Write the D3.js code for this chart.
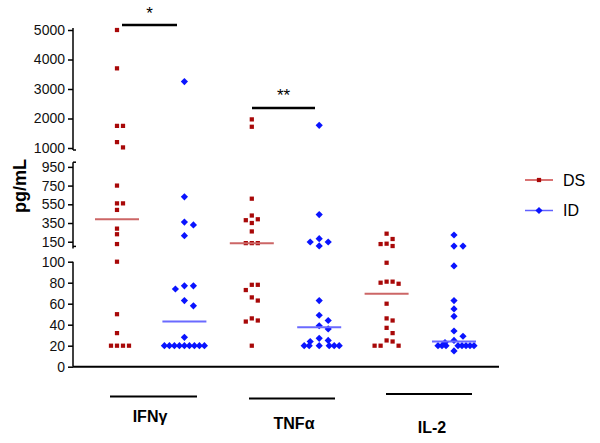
<!DOCTYPE html>
<html>
<head>
<meta charset="utf-8">
<script src="https://cdn.jsdelivr.net/npm/d3@7"></script>
<style>
  body { margin: 0; background: #fff; }
  text { font-family: "Liberation Sans", Arial, sans-serif; }
</style>
</head>
<body>
<script>
// data (pg/mL)
const categories = ["IFNγ", "TNFα", "IL-2"];
const groups = ["DS", "ID"];
const ifngDS = [5000, 3700, 1750, 1750, 1200, 1020, 750, 560, 560, 490, 290, 230, 125, 100, 50, 32, 20, 20, 20, 20];
const ifngID = [3250, 630, 360, 330, 215, 77, 77, 74, 63, 58, 28, 20, 20, 20, 20, 20, 20, 20, 20, 20];
const tnfaDS = [1970, 1720, 610, 430, 390, 380, 350, 260, 135, 135, 135, 78, 78, 73, 66, 63, 46, 44, 43, 20];
const tnfaID = [1770, 440, 182, 147, 147, 105, 63, 49, 44, 39, 36, 27, 25, 24, 20, 20, 20, 20, 20, 20];
const il2DS = [236, 179, 129, 125, 104, 99, 81, 81, 80, 79, 60, 46, 44, 37, 32, 25, 24, 20, 20, 20];
const il2ID = [222, 103, 103, 96, 63, 55, 48, 34, 29, 25, 23, 20, 20, 20, 20, 20, 20, 20, 20, 15];
const ticksLow = [0, 20, 40, 60, 80, 100];
const ticksMid = [150, 350, 550, 750, 950];
const ticksHigh = [1000, 2000, 3000, 4000, 5000];
const signif = [{label: "*", cat: "IFNγ"}, {label: "**", cat: "TNFα"}];

const series = [
  {cat: "IFNγ", grp: "DS", values: ifngDS},
  {cat: "IFNγ", grp: "ID", values: ifngID},
  {cat: "TNFα", grp: "DS", values: tnfaDS},
  {cat: "TNFα", grp: "ID", values: tnfaID},
  {cat: "IL-2", grp: "DS", values: il2DS},
  {cat: "IL-2", grp: "ID", values: il2ID}
];

const width = 600, height = 443;
const axisX = 73;
const colors = {DS: "#a80808", ID: "#0a14ff"};
const medColors = {DS: "#cc6666", ID: "#6a6aff"};

const svg = d3.select("body").append("svg")
  .attr("width", width).attr("height", height);

// broken y axis: three linear pieces
const yLow = d3.scaleLinear().domain([0, 100]).range([366.7, 261.7]);
const yMid = d3.scaleLinear().domain([100, 1000]).range([246.4, 162.2]);
const yHigh = d3.scaleLinear().domain([1000, 5000]).range([148, 30]);
const y = v => v <= 100 ? yLow(v) : v <= 1000 ? yMid(v) : yHigh(v);

const x = d3.scalePoint()
  .domain(series.map(s => s.cat + "|" + s.grp))
  .range([117, 454]);

// axes
[[yLow, ticksLow], [yMid, ticksMid], [yHigh, ticksHigh]].forEach(([sc, tv]) => {
  const g = svg.append("g")
    .attr("transform", "translate(" + axisX + ",0)")
    .call(d3.axisLeft(sc).tickValues(tv).tickSize(5).tickPadding(3).tickSizeOuter(0).tickFormat(d3.format("d")));
  g.select(".domain").remove();
  g.selectAll(".tick line").attr("stroke", "#000").attr("stroke-width", 1.5);
  g.selectAll(".tick text").attr("font-size", 14).attr("fill", "#111")
    .style("font-family", "'Liberation Sans', Arial, sans-serif");
  const r = sc.range();
  g.append("line").attr("x1", 0).attr("x2", 0)
    .attr("y1", r[0] + (sc === yLow ? 0 : 2)).attr("y2", r[1] - (sc === yHigh ? 2 : 0))
    .attr("stroke", "#000").attr("stroke-width", 1.5);
});
// break caps
[yMid.range()[0], yMid.range()[1], yHigh.range()[0] + 2].forEach(yy => {
  svg.append("line").attr("x1", axisX).attr("x2", axisX + 3)
    .attr("y1", yy).attr("y2", yy).attr("stroke", "#000").attr("stroke-width", 1.5);
});

// x axis line
svg.append("line").attr("x1", axisX).attr("x2", 499)
  .attr("y1", yLow(0)).attr("y2", yLow(0))
  .attr("stroke", "#000").attr("stroke-width", 2);

// y label
svg.append("text")
  .attr("transform", "translate(26,186) rotate(-90)")
  .attr("text-anchor", "middle")
  .attr("font-size", 18).attr("font-weight", "bold")
  .text("pg/mL");

// simple column scatter layout
function swarm(values, step, dyMin, maxHalf) {
  const order = [0, 1, -1, 2, -2, 3, -3, 4, -4, 5, -5, 6, -6];
  const placed = [];
  values.forEach(v => {
    const yy = y(v);
    for (const k of order) {
      const dx = k * step;
      if (!placed.some(p => Math.abs(p.dx - dx) < step - 0.1 && Math.abs(p.y - yy) < dyMin)) {
        placed.push({v: v, y: yy, dx: dx});
        break;
      }
    }
  });
  d3.group(placed, d => d.v).forEach(row => {
    const m = d3.max(row, d => Math.abs(d.dx));
    if (m > maxHalf) row.forEach(d => d.dx *= maxHalf / m);
  });
  return placed;
}

const square = d3.symbol().type(d3.symbolSquare).size(18)();
const diamond = d3.symbol().type(d3.symbolSquare).size(26)();

series.forEach(s => {
  const cx = x(s.cat + "|" + s.grp);
  const isDS = s.grp === "DS";
  const pts = swarm(s.values, isDS ? 6 : 9, isDS ? 5.5 : 7, 20);
  svg.append("g").selectAll("path")
    .data(pts)
    .enter().append("path")
    .attr("d", isDS ? square : diamond)
    .attr("transform", d => "translate(" + (cx + d.dx) + "," + d.y + ")" + (isDS ? "" : "rotate(45)"))
    .attr("fill", colors[s.grp]);
  const med = d3.median(s.values);
  svg.append("line")
    .attr("x1", cx - 22).attr("x2", cx + 22)
    .attr("y1", y(med)).attr("y2", y(med))
    .attr("stroke", medColors[s.grp]).attr("stroke-width", 2);
});

// significance bars
const sigPos = {"IFNγ": {x1: 122, x2: 177, y: 25, ty: 19}, "TNFα": {x1: 252, x2: 315, y: 108, ty: 101}};
signif.forEach(s => {
  const p = sigPos[s.cat];
  svg.append("line").attr("x1", p.x1).attr("x2", p.x2).attr("y1", p.y).attr("y2", p.y)
    .attr("stroke", "#000").attr("stroke-width", 2.5);
  svg.append("text").attr("x", (p.x1 + p.x2) / 2).attr("y", p.ty)
    .attr("text-anchor", "middle").attr("font-size", 17).text(s.label);
});

// category labels with underlines
const catPos = {"IFNγ": {x1: 110, x2: 197, ly: 396.5, tx: 150, ty: 422},
                "TNFα": {x1: 249, x2: 335, ly: 398.5, tx: 294, ty: 428.5},
                "IL-2": {x1: 386, x2: 472, ly: 394, tx: 432, ty: 432.5}};
categories.forEach(c => {
  const p = catPos[c];
  svg.append("line").attr("x1", p.x1).attr("x2", p.x2).attr("y1", p.ly).attr("y2", p.ly)
    .attr("stroke", "#000").attr("stroke-width", 2);
  svg.append("text").attr("x", p.tx).attr("y", p.ty)
    .attr("text-anchor", "middle").attr("font-size", 16).attr("font-weight", "bold")
    .text(c);
});

// legend
const legend = svg.append("g").attr("transform", "translate(525,180)");
groups.forEach((g, i) => {
  const row = legend.append("g").attr("transform", "translate(0," + (i * 30.5) + ")");
  row.append("line").attr("x1", 0).attr("x2", 28).attr("y1", 0).attr("y2", 0)
    .attr("stroke", g === "DS" ? "#cc4444" : "#6060ff").attr("stroke-width", 1.5);
  row.append("path").attr("d", g === "DS" ? square : diamond)
    .attr("transform", "translate(14,0)" + (g === "DS" ? "" : "rotate(45)"))
    .attr("fill", colors[g]);
  row.append("text").attr("x", 38).attr("y", 0).attr("dy", "0.35em")
    .attr("font-size", 16).text(g);
});
</script>
</body>
</html>
